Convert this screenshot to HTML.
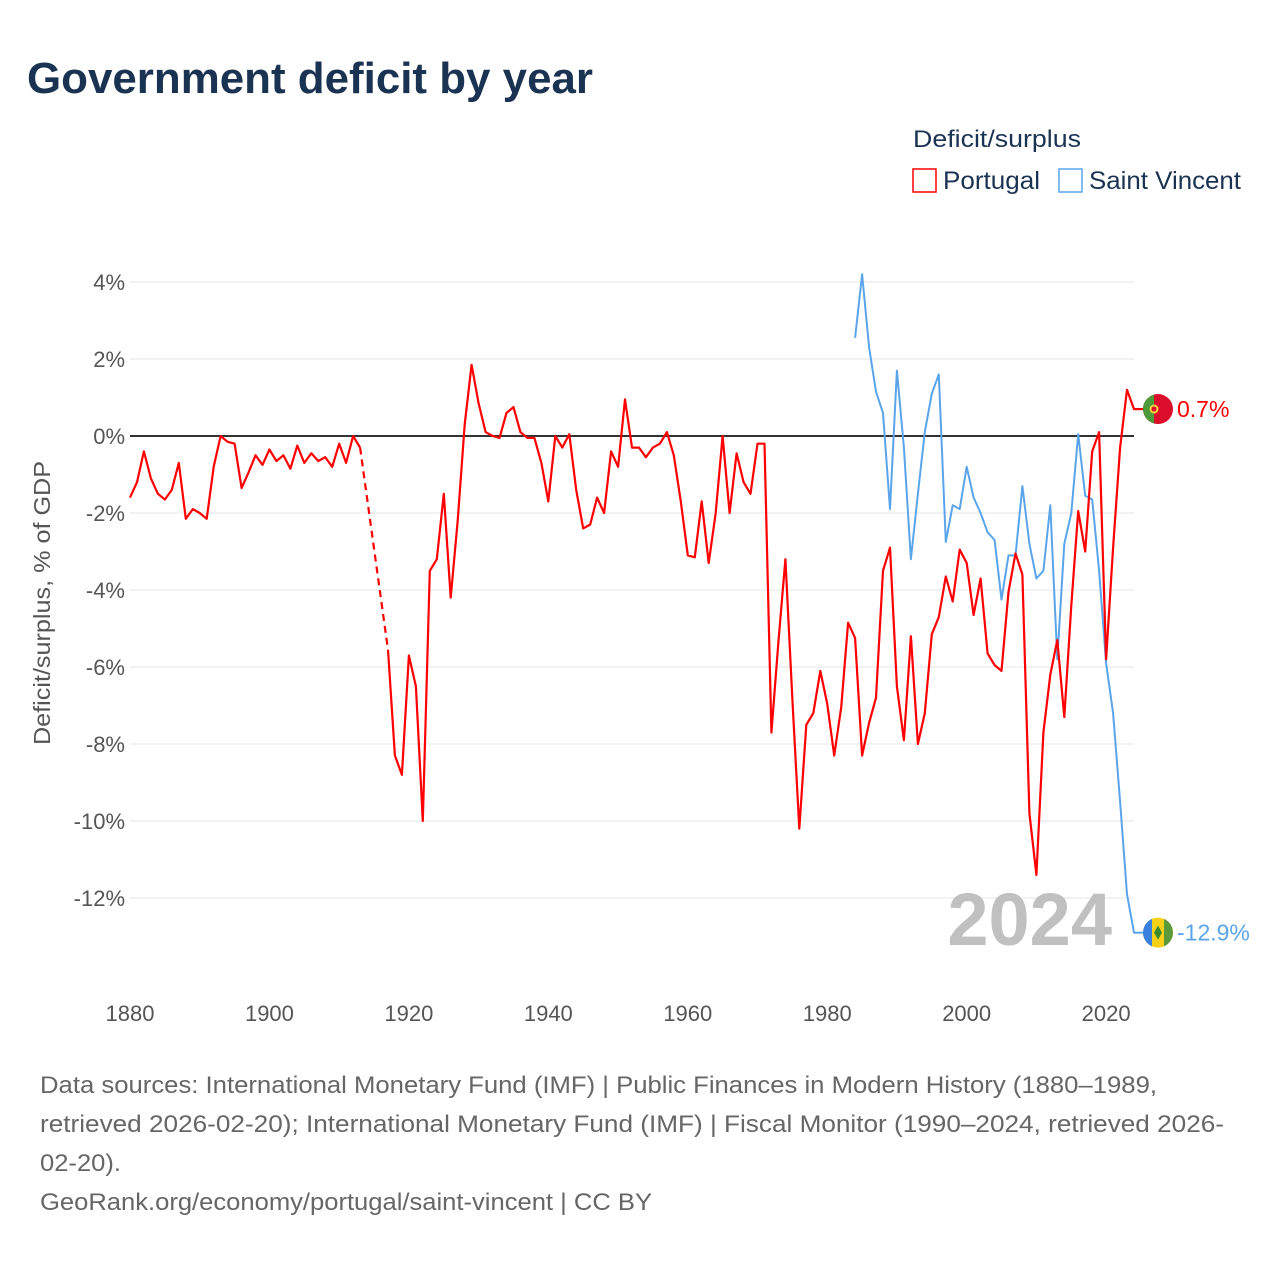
<!DOCTYPE html>
<html><head><meta charset="utf-8"><style>
html,body{margin:0;padding:0;background:#fff;}
svg{display:block;font-family:"Liberation Sans",sans-serif;}
</style></head><body>
<svg id="chart" width="1280" height="1280" viewBox="0 0 1280 1280">
<text x="27" y="93" font-size="44" font-weight="bold" fill="#1b3352" textLength="566" lengthAdjust="spacingAndGlyphs">Government deficit by year</text>
<g>
<text x="913" y="147" font-size="24" fill="#1b3352" textLength="168" lengthAdjust="spacingAndGlyphs">Deficit/surplus</text>
<g>
<rect x="913" y="169" width="23" height="23" fill="none" stroke="#f00" stroke-width="1.5"/>
<text x="943" y="189" font-size="25" fill="#1b3352" textLength="97" lengthAdjust="spacingAndGlyphs">Portugal</text>
</g>
<g>
<rect x="1059" y="169" width="23" height="23" fill="none" stroke="#5aa5ea" stroke-width="1.5"/>
<text x="1089" y="189" font-size="25" fill="#1b3352" textLength="152" lengthAdjust="spacingAndGlyphs">Saint Vincent</text>
</g>
</g>
<g id="grid"></g>
<g id="axes"></g>
<text x="1112" y="945" font-size="74" font-weight="bold" fill="#c0c0c0" text-anchor="end">2024</text>
<g id="series"></g>
<text transform="translate(50,603) rotate(-90)" font-size="23" fill="#555" text-anchor="middle" textLength="284" lengthAdjust="spacingAndGlyphs">Deficit/surplus, % of GDP</text>
<g font-size="24" fill="#666">
<text x="40" y="1093" textLength="1117" lengthAdjust="spacingAndGlyphs">Data sources: International Monetary Fund (IMF) | Public Finances in Modern History (1880–1989,</text>
<text x="40" y="1132" textLength="1184" lengthAdjust="spacingAndGlyphs">retrieved 2026-02-20); International Monetary Fund (IMF) | Fiscal Monitor (1990–2024, retrieved 2026-</text>
<text x="40" y="1171" textLength="81" lengthAdjust="spacingAndGlyphs">02-20).</text>
<text x="40" y="1210" textLength="612" lengthAdjust="spacingAndGlyphs">GeoRank.org/economy/portugal/saint-vincent | CC BY</text>
</g>
</svg>
<script>
const yTicks=[4,2,0,-2,-4,-6,-8,-10,-12];
const xTicks=[1880,1900,1920,1940,1960,1980,2000,2020];
const ptYears1=[1880,1881,1882,1883,1884,1885,1886,1887,1888,1889,1890,1891,1892,1893,1894,1895,1896,1897,1898,1899,1900,1901,1902,1903,1904,1905,1906,1907,1908,1909,1910,1911,1912,1913];
const ptValues1=[-1.6,-1.2,-0.4,-1.1,-1.5,-1.65,-1.4,-0.7,-2.15,-1.9,-2.0,-2.15,-0.8,0,-0.15,-0.2,-1.35,-0.95,-0.5,-0.75,-0.35,-0.65,-0.5,-0.85,-0.25,-0.7,-0.45,-0.65,-0.55,-0.8,-0.2,-0.7,0,-0.3];
const ptYears2=[];for(let y=1917;y<=2024;y++)ptYears2.push(y);
const ptValues2=[-5.55,-8.3,-8.8,-5.7,-6.5,-10.0,-3.5,-3.2,-1.5,-4.2,-2.2,0.3,1.85,0.85,0.1,0,-0.05,0.6,0.75,0.1,-0.05,-0.05,-0.7,-1.7,0,-0.3,0.05,-1.4,-2.4,-2.3,-1.6,-2.0,-0.4,-0.8,0.95,-0.3,-0.3,-0.55,-0.3,-0.2,0.1,-0.5,-1.7,-3.1,-3.15,-1.7,-3.3,-2.0,0,-2.0,-0.45,-1.2,-1.5,-0.2,-0.2,-7.7,-5.35,-3.2,-6.85,-10.2,-7.5,-7.2,-6.1,-6.95,-8.3,-7.05,-4.85,-5.25,-8.3,-7.45,-6.8,-3.5,-2.9,-6.5,-7.9,-5.2,-8.0,-7.2,-5.15,-4.7,-3.65,-4.3,-2.95,-3.3,-4.65,-3.7,-5.65,-5.95,-6.1,-4.05,-3.05,-3.6,-9.8,-11.4,-7.7,-6.2,-5.3,-7.3,-4.4,-1.95,-3.0,-0.4,0.1,-5.8,-2.9,-0.3,1.2,0.7];
const svYears=[];for(let y=1984;y<=2024;y++)svYears.push(y);
const svValues=[2.55,4.2,2.3,1.15,0.6,-1.9,1.7,-0.3,-3.2,-1.5,0.1,1.1,1.6,-2.75,-1.8,-1.9,-0.8,-1.6,-2.0,-2.5,-2.7,-4.25,-3.1,-3.1,-1.3,-2.8,-3.7,-3.5,-1.8,-5.8,-2.8,-2.0,0.05,-1.55,-1.65,-3.5,-5.9,-7.2,-9.5,-11.9,-12.9];
const NS='http://www.w3.org/2000/svg';
const X0=130,X1=1134;
const xs=y=>X0+(y-1880)*(X1-X0)/144;
const ys=v=>436-v*38.5;
function mk(tag,attrs,parent){const e=document.createElementNS(NS,tag);for(const k in attrs)e.setAttribute(k,attrs[k]);parent.appendChild(e);return e;}
const grid=document.getElementById('grid'),axes=document.getElementById('axes'),series=document.getElementById('series');
yTicks.forEach(v=>{
  if(v!==0){const l=mk('line',{x1:X0,x2:X1,y1:ys(v),y2:ys(v),stroke:'#e6e6e6','stroke-width':1},grid);
  
  }
  const t=mk('text',{x:125,y:ys(v)+8,'font-size':22,fill:'#555','text-anchor':'end'},axes);
  t.textContent=v+'%';
  
  
});
xTicks.forEach(y=>{
  const t=mk('text',{x:xs(y),y:1021,'font-size':22,fill:'#555','text-anchor':'middle'},axes);
  t.textContent=y;
  
  
});
const z=mk('line',{x1:X0,x2:X1,y1:ys(0),y2:ys(0),stroke:'#333','stroke-width':2},axes);


function pts(yrs,vals){return yrs.map((y,i)=>xs(y).toFixed(1)+','+ys(vals[i]).toFixed(1)).join(' ');}
const sv=mk('polyline',{points:pts(svYears,svValues)+' '+(X1+11)+','+ys(svValues[svValues.length-1]),fill:'none',stroke:'#5aa5ea','stroke-width':2,'stroke-linejoin':'round'},series);


const p1=mk('polyline',{points:pts(ptYears1,ptValues1),fill:'none',stroke:'#f00','stroke-width':2.2,'stroke-linejoin':'round'},series);


const gap=mk('line',{x1:xs(1913),y1:ys(ptValues1[ptValues1.length-1]),x2:xs(1917),y2:ys(ptValues2[0]),stroke:'#f00','stroke-width':2.2,'stroke-dasharray':'7,5'},series);


const p2=mk('polyline',{points:pts(ptYears2,ptValues2)+' '+(X1+11)+','+ys(ptValues2[ptValues2.length-1]),fill:'none',stroke:'#f00','stroke-width':2.2,'stroke-linejoin':'round'},series);


// end markers
const ptY=ys(ptValues2[ptValues2.length-1]),svY=ys(svValues[svValues.length-1]);
const fp=mk('g',{},series);


mk('clipPath',{id:'cp1'},fp).appendChild(Object.assign(document.createElementNS(NS,'circle'),{}));
document.querySelector('#cp1 circle').setAttribute('cx',1158);document.querySelector('#cp1 circle').setAttribute('cy',ptY);document.querySelector('#cp1 circle').setAttribute('r',15);
const g1=mk('g',{'clip-path':'url(#cp1)'},fp);
mk('rect',{x:1143,y:ptY-15,width:30,height:30,fill:'#da0d2a'},g1);
mk('rect',{x:1143,y:ptY-15,width:11,height:30,fill:'#4c9a3a'},g1);
mk('circle',{cx:1154,cy:ptY,r:4.5,fill:'#f4d03f'},g1);
mk('circle',{cx:1154,cy:ptY,r:2.5,fill:'#da0d2a'},g1);
const lp=mk('text',{x:1177,y:ptY+8,'font-size':23,fill:'#f00'},series);
lp.textContent=ptValues2[ptValues2.length-1]+'%';


const fs=mk('g',{},series);


const cp2=mk('clipPath',{id:'cp2'},fs);mk('circle',{cx:1158,cy:svY,r:15},cp2);
const g2=mk('g',{'clip-path':'url(#cp2)'},fs);
mk('rect',{x:1143,y:svY-15,width:30,height:30,fill:'#f7d117'},g2);
mk('rect',{x:1143,y:svY-15,width:9,height:30,fill:'#3b82e0'},g2);
mk('rect',{x:1164,y:svY-15,width:9,height:30,fill:'#5a9a3a'},g2);
mk('polygon',{points:`1158,${svY-7} 1162,${svY} 1158,${svY+7} 1154,${svY}`,fill:'#3a8a2a'},g2);
const ls=mk('text',{x:1177,y:svY+8,'font-size':23,fill:'#5aa5ea'},series);
ls.textContent=svValues[svValues.length-1]+'%';


</script>
</body></html>
